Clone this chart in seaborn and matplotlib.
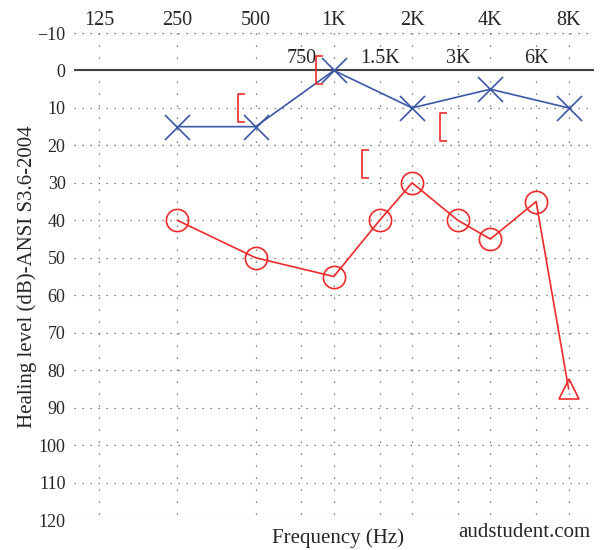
import matplotlib
matplotlib.use("Agg")
import matplotlib.pyplot as plt
import matplotlib.transforms as mtransforms
from matplotlib.path import Path
import pandas as pd
import seaborn as sns

# frequencies / labels on the top axis
main_freqs = [125, 250, 500, 1000, 2000, 4000, 8000]
main_labels = ["125", "250", "500", "1K", "2K", "4K", "8K"]
mid_freqs = [750, 1500, 3000, 6000]
mid_labels = ["750", "1.5K", "3K", "6K"]
db_ticks = list(range(-10, 121, 10))

# left ear, air conduction (blue X)
left_freqs = [250, 500, 1000, 2000, 4000, 8000]
left_db = [15, 15, 0, 10, 5, 10]

# right ear, air conduction (red O, last point is a triangle)
right_freqs = [250, 500, 1000, 1500, 2000, 3000, 4000, 6000, 8000]
right_db = [40, 50, 55, 40, 30, 40, 45, 35, 85]

# masked bone conduction (red [)
bone_freqs = [500, 1000, 1500, 3000]
bone_db = [10, 0, 25, 15]

blue = "#3b58a8"
red = "#ee2a2a"

sns.set_style("white")
plt.rcParams["font.family"] = ["Liberation Serif", "DejaVu Serif"]
plt.rcParams["font.size"] = 13

fig = plt.figure(figsize=(6.01, 5.5), dpi=100)
ax = fig.add_axes([0.123, 0.0545, 0.865, 0.8855])
ax.set_xscale("log", base=2)
ax.set_xlim(100, 10000)
ax.set_ylim(120, -10)

# dotted grid
for f in main_freqs + mid_freqs:
    ax.plot([f, f], [-10, 120], color="#555555", lw=0.9, ls=(0, (1, 8.6)), zorder=1)
for d in db_ticks:
    ax.plot([100, 10000], [d, d], color="#555555", lw=0.9, ls=(0, (1, 5.4)), zorder=1)
ax.axhline(0, color="#444444", lw=1.5, zorder=2)

df_left = pd.DataFrame({"freq": left_freqs, "db": left_db})
df_right = pd.DataFrame({"freq": right_freqs, "db": right_db})

sns.lineplot(data=df_left, x="freq", y="db", ax=ax, color=blue, lw=1.2,
             marker="x", markersize=18, mew=1.2, mec=blue, zorder=3)
sns.lineplot(data=df_right, x="freq", y="db", ax=ax, color=red, lw=1.2, zorder=3)
sns.lineplot(data=df_right.iloc[:-1], x="freq", y="db", ax=ax, ls="none",
             marker="o", markersize=16, mfc="none", mec=red, mew=1.2, zorder=4)
sns.lineplot(data=df_right.iloc[-1:], x="freq", y="db", ax=ax, ls="none",
             marker="^", markersize=15, mfc="none", mec=red, mew=1.2, zorder=4,
             clip_on=False)

bracket = Path([(0.5, -1), (0, -1), (0, 1), (0.5, 1)],
               [Path.MOVETO, Path.LINETO, Path.LINETO, Path.LINETO])
shift = ax.transData + mtransforms.ScaledTranslation(-0.18, 0, fig.dpi_scale_trans)
ax.plot(bone_freqs, bone_db, ls="none", marker=bracket, markersize=20,
        mfc="none", mec=red, mew=1.2, transform=shift, zorder=4)

# top axis labels
ax.xaxis.tick_top()
ax.set_xticks(main_freqs)
ax.set_xticklabels(main_labels, fontsize=14.5)
ax.xaxis.set_minor_locator(matplotlib.ticker.NullLocator())
ax.set_yticks(db_ticks)
ax.tick_params(axis="y", length=0, pad=6, labelsize=13)
ax.tick_params(axis="x", length=0, pad=2.5)
for f, lab in zip(mid_freqs, mid_labels):
    ax.text(f, -3.2, lab, ha="center", va="center", fontsize=14.5)

for s in ax.spines.values():
    s.set_visible(False)
ax.set_xlabel("")
ax.set_ylabel("Healing level (dB)-ANSI S3.6-2004", fontsize=15, labelpad=0)

fig.text(0.562, 0.022, "Frequency (Hz)", ha="center", va="center", fontsize=15)
fig.text(0.872, 0.031, "audstudent.com", ha="center", va="center", fontsize=15)

fig.savefig("out.png", dpi=100)
